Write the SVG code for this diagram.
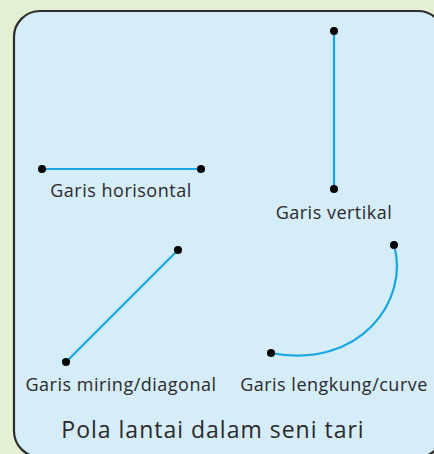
<svg xmlns="http://www.w3.org/2000/svg" width="434" height="454" viewBox="0 0 434 454">
<style>
.ln{stroke:#16a6e2;stroke-width:2.2;fill:none}
.dot{fill:#000}
.lbl{font-family:"Open Sans","Noto Sans",sans-serif;font-size:18px;letter-spacing:0.5px;fill:#2a2a2a;text-anchor:middle}
.ttl{font-family:"Open Sans","Noto Sans",sans-serif;font-size:23px;letter-spacing:1px;fill:#2a2a2a;text-anchor:middle}
</style>
<rect x="0" y="0" width="434" height="454" fill="#e4f0d4"/>
<rect id="panel" x="14" y="11" width="430" height="446" rx="26" fill="#d5ecf9" stroke="#2e2e2e" stroke-width="2.2"/>
<g id="connectors">
<line class="ln" x1="42" y1="169" x2="201" y2="169"/>
<line class="ln" x1="334" y1="31" x2="334" y2="189"/>
<line class="ln" x1="178" y1="250" x2="66" y2="362"/>
<path class="ln" d="M394,245 C410,300 360,370 271,353"/>
</g>
<g id="horisontal">
<circle class="dot" cx="42" cy="169" r="4"/>
<circle class="dot" cx="201" cy="169" r="4"/>
<text class="lbl" x="121" y="197">Garis horisontal</text>
</g>
<g id="vertikal">
<circle class="dot" cx="334" cy="31" r="4"/>
<circle class="dot" cx="334" cy="189" r="4"/>
<text class="lbl" x="334" y="219">Garis vertikal</text>
</g>
<g id="diagonal">
<circle class="dot" cx="178" cy="250" r="4"/>
<circle class="dot" cx="66" cy="362" r="4"/>
<text class="lbl" x="121" y="391">Garis miring/diagonal</text>
</g>
<g id="curve">
<circle class="dot" cx="394" cy="245" r="4"/>
<circle class="dot" cx="271" cy="353" r="4"/>
<text class="lbl" x="334" y="391">Garis lengkung/curve</text>
</g>
<g id="title">
<text class="ttl" x="213" y="438">Pola lantai dalam seni tari</text>
</g>
</svg>
